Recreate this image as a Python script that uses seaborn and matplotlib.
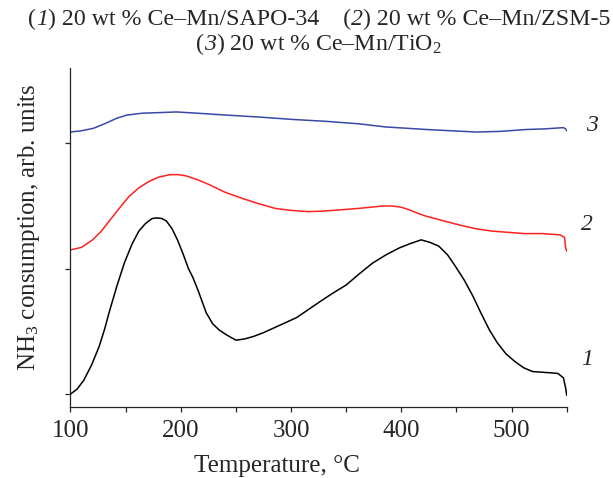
import numpy as np
import pandas as pd
import seaborn as sns
import matplotlib.pyplot as plt

# ---------------------------------------------------------
# Data (temperature, degC / offset signal)
# ---------------------------------------------------------
temp_1 = [100, 106, 112, 119, 126, 131, 135, 142, 149, 156, 162, 168, 174, 178,
          183, 187, 192, 197, 202, 207, 211, 216, 223, 229, 235, 242, 250, 258,
          266, 275, 285, 295, 305, 315, 325, 337, 350, 362, 374, 386, 398, 408,
          418, 426, 434, 442, 449, 457, 465, 472, 480, 487, 495, 503, 511, 519,
          527, 535, 542, 547, 549, 550]
signal_1 = [0.0, 0.04, 0.11, 0.23, 0.38, 0.52, 0.65, 0.86, 1.05, 1.20, 1.30, 1.36,
            1.40, 1.405, 1.40, 1.38, 1.32, 1.23, 1.12, 1.00, 0.93, 0.82, 0.65, 0.56,
            0.51, 0.47, 0.43, 0.44, 0.46, 0.49, 0.53, 0.57, 0.61, 0.67, 0.73, 0.80,
            0.87, 0.96, 1.045, 1.11, 1.165, 1.20, 1.23, 1.21, 1.18, 1.11, 1.02, 0.91,
            0.78, 0.65, 0.51, 0.41, 0.32, 0.26, 0.21, 0.18, 0.175, 0.17, 0.165,
            0.13, 0.05, -0.01]

temp_2 = [100, 110, 120, 128, 136, 145, 153, 162, 171, 180, 190, 198, 205, 215,
          226, 240, 256, 270, 286, 300, 316, 330, 346, 360, 372, 383, 392, 400,
          407, 414, 422, 437, 452, 467, 482, 497, 512, 528, 544, 548, 549, 550]
signal_2 = [1.15, 1.17, 1.23, 1.30, 1.39, 1.49, 1.575, 1.645, 1.695, 1.73, 1.75,
            1.75, 1.74, 1.71, 1.67, 1.61, 1.56, 1.52, 1.48, 1.465, 1.455, 1.46,
            1.47, 1.48, 1.49, 1.50, 1.50, 1.49, 1.47, 1.445, 1.42, 1.385, 1.35,
            1.32, 1.30, 1.29, 1.28, 1.28, 1.27, 1.25, 1.17, 1.14]

temp_3 = [100, 110, 121, 132, 142, 151, 165, 181, 196, 215, 241, 270, 302, 332,
          362, 386, 405, 423, 445, 468, 490, 513, 530, 547, 549, 550]
signal_3 = [2.09, 2.10, 2.12, 2.16, 2.20, 2.225, 2.24, 2.245, 2.25, 2.24, 2.225,
            2.21, 2.19, 2.175, 2.155, 2.13, 2.12, 2.11, 2.10, 2.09, 2.095, 2.11,
            2.115, 2.125, 2.115, 2.10]

curve_labels = ["1", "2", "3"]
label_pos = [(568.6, 0.279), (568.6, 1.356), (573.2, 2.138)]

# title pieces: (text, italic?)
title_line1 = [("(", False), ("1", True), (") 20 wt % Ce–Mn/SAPO-34    (", False),
               ("2", True), (") 20 wt % Ce–Mn/ZSM-5", False)]
title_line2 = [("(", False), ("3", True), (") 20 wt % Ce–Mn/TiO$_2$", False)]

# ---------------------------------------------------------
# Style
# ---------------------------------------------------------
sns.set_style("ticks")
plt.rcParams['font.family'] = ['Liberation Serif', 'DejaVu Serif']
plt.rcParams['mathtext.fontset'] = 'custom'
plt.rcParams['mathtext.rm'] = 'Liberation Serif'
plt.rcParams['mathtext.it'] = 'Liberation Serif:italic'

fig = plt.figure(figsize=(6.13, 4.78), dpi=100)
ax = fig.add_axes([0.115, 0.149, 0.8095, 0.7094])

sns.lineplot(x=temp_1, y=signal_1, color="black", lw=1.1, ax=ax)
sns.lineplot(x=temp_2, y=signal_2, color="#ff2020", lw=1.1, ax=ax)
sns.lineplot(x=temp_3, y=signal_3, color="#3a48a8", lw=1.1, ax=ax)

for lab, (tx, ty) in zip(curve_labels, label_pos):
    ax.text(tx, ty, lab, fontsize=17, style="italic", ha="center", va="center",
            clip_on=False)

ax.set_xlim(100, 550)
ax.set_ylim(-0.101, 2.603)
ax.set_xticks([100, 200, 300, 400, 500])
ax.set_xticks([150, 250, 350, 450, 550], minor=True)
ax.set_yticks([0, 1, 2])
ax.set_yticklabels([])
ax.tick_params(axis="both", which="both", direction="out", length=3.3, width=0.9,
               labelsize=18, pad=6.5)
for s in ["top", "right"]:
    ax.spines[s].set_visible(False)
for s in ["left", "bottom"]:
    ax.spines[s].set_linewidth(0.9)

ax.set_xlabel("Temperature, °C", fontsize=18)
ax.xaxis.set_label_coords(0.417, -0.143)
ax.set_ylabel("NH$_3$ consumption, arb. units", fontsize=18)
ax.yaxis.set_label_coords(-0.057, 0.531)

# title lines built from pieces so the curve numbers can be italic
renderer = fig.canvas.get_renderer()
fig_w = fig.bbox.width


def put_line(pieces, center_px, base_px, size):
    texts = []
    for s, ital in pieces:
        t = fig.text(0, 1 - base_px / 478, s, fontsize=size, ha="left",
                     va="baseline", style="italic" if ital else "normal")
        texts.append(t)
    widths = [t.get_window_extent(renderer).width for t in texts]
    x = center_px - sum(widths) / 2
    for t, w in zip(texts, widths):
        t.set_x(x / fig_w)
        x += w


put_line(title_line1, 319, 25, 17.2)
put_line(title_line2, 319, 50, 17.2)

fig.savefig("out.png", dpi=100)
